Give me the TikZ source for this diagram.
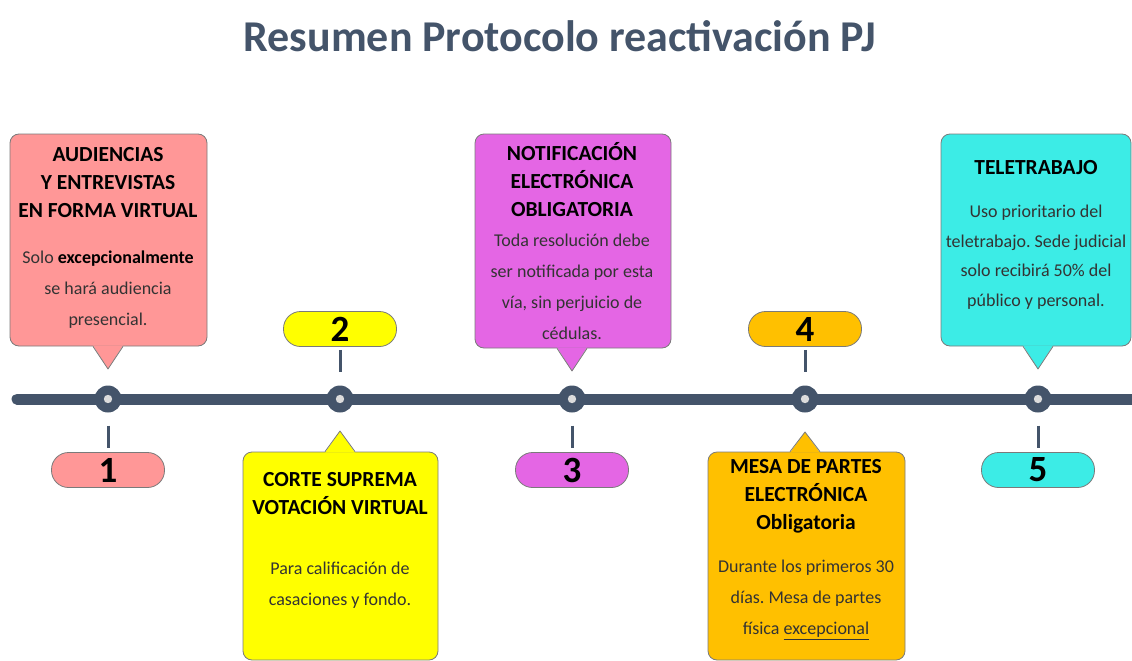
\documentclass[tikz,border=0pt]{standalone}
\usepackage{fontspec}
\setmainfont{Carlito}
\usetikzlibrary{calc}
\definecolor{slate}{HTML}{44546A}
\definecolor{cpink}{HTML}{FF9797}
\definecolor{cyellow}{HTML}{FFFF00}
\definecolor{cmag}{HTML}{E466E4}
\definecolor{corange}{HTML}{FFC000}
\definecolor{ccyan}{HTML}{3CECE6}
\definecolor{edge}{HTML}{7A7A7A}
\definecolor{bodytext}{HTML}{333333}
\definecolor{dotin}{HTML}{DCDCDC}
\frenchspacing
\begin{document}
\begin{tikzpicture}[x=1pt,y=-1pt,
  box/.style={draw=edge, line width=0.8pt, rounded corners=9pt, inner sep=0pt},
  pill/.style={draw=edge, line width=0.8pt, rounded corners=17pt, minimum width=113pt, minimum height=35pt, inner sep=0pt, font=\fontsize{37}{37}\selectfont\bfseries},
  dot/.style={circle, fill=slate, minimum size=27pt, inner sep=0pt},
  tick/.style={draw=slate, line width=3pt},
  head/.style={align=center, font=\fontsize{21.5}{28}\selectfont\bfseries, text=black},
  body/.style={align=center, font=\fontsize{18}{31}\selectfont, text=bodytext},
  ptr/.style={draw=edge, line width=0.8pt, line join=round},
]
\useasboundingbox (0,0) rectangle (1132,661);

% title
\node[text=slate, font=\fontsize{44}{52}\selectfont\bfseries] (title) at (560,36) {Resumen Protocolo reactivación PJ};

% timeline
\coordinate (L) at (17,399);
\coordinate (R) at (1140,399);
\draw[slate, line width=11pt, line cap=round] (L) -- (R);

% dots
\foreach \i/\x in {1/108,2/340,3/572,4/805,5/1038}{
  \node[dot] (c\i) at (\x,399) {};
  \fill[dotin] (c\i) circle (4.2);
}

% pills
\node[pill, fill=cpink]   (p1) at (108,470) {1};
\node[pill, fill=cyellow] (p2) at (340,329) {2};
\node[pill, fill=cmag]    (p3) at (572,470) {3};
\node[pill, fill=corange] (p4) at (805,329) {4};
\node[pill, fill=ccyan]   (p5) at (1038,470) {5};

% ticks
\draw[tick, shorten <=13pt, shorten >=4pt] (c1) -- (p1);
\draw[tick, shorten <=3pt, shorten >=13pt] (p2) -- (c2);
\draw[tick, shorten <=13pt, shorten >=4pt] (c3) -- (p3);
\draw[tick, shorten <=3pt, shorten >=13pt] (p4) -- (c4);
\draw[tick, shorten <=13pt, shorten >=4pt] (c5) -- (p5);

% boxes
\node[box, fill=cpink,   minimum width=197pt, minimum height=212pt] (b1) at (108.5,240) {};
\node[box, fill=cyellow, minimum width=195pt, minimum height=208pt] (b2) at (340.5,556) {};
\node[box, fill=cmag,    minimum width=196pt, minimum height=214pt] (b3) at (573,241) {};
\node[box, fill=corange, minimum width=197pt, minimum height=208pt] (b4) at (806.5,556) {};
\node[box, fill=ccyan,   minimum width=190pt, minimum height=212pt] (b5) at (1036,240) {};

% pointers
\coordinate (t1) at (108,369);
\coordinate (t2) at (340,431);
\coordinate (t3) at (572,371);
\coordinate (t4) at (805,432);
\coordinate (t5) at (1038,369);
\foreach \i/\col/\s in {1/cpink/-1,3/cmag/-1,5/ccyan/-1}{
  \fill[\col] ($(b\i.south -| t\i)+(-15,\s)$) -- (t\i) -- ($(b\i.south -| t\i)+(15,\s)$) -- cycle;
  \draw[ptr] ($(b\i.south -| t\i)+(-15,0)$) -- (t\i) -- ($(b\i.south -| t\i)+(15,0)$);
}
\foreach \i/\col/\s in {2/cyellow/1,4/corange/1}{
  \fill[\col] ($(b\i.north -| t\i)+(-15,\s)$) -- (t\i) -- ($(b\i.north -| t\i)+(15,\s)$) -- cycle;
  \draw[ptr] ($(b\i.north -| t\i)+(-15,0)$) -- (t\i) -- ($(b\i.north -| t\i)+(15,0)$);
}

% texts
\node[head] (h1) at (108,183) {AUDIENCIAS\\Y ENTREVISTAS\\EN FORMA VIRTUAL};
\node[body] (d1) at (108,290) {Solo \textbf{\color{black}excepcionalmente}\\se hará audiencia\\presencial.};

\node[head] (h2) at (340,494) {CORTE SUPREMA\\VOTACIÓN VIRTUAL};
\node[body] (d2) at (340,585) {Para calificación de\\casaciones y fondo.};

\node[head] (h3) at (572,180) {NOTIFICACIÓN\\ELECTRÓNICA\\OBLIGATORIA};
\node[body] (d3) at (572,287) {Toda resolución debe\\ser notificada por esta\\vía, sin perjuicio de\\cédulas.};

\node[head] (h4) at (806,496) {MESA DE PARTES\\ELECTRÓNICA\\Obligatoria};
\node[body] (d4) at (806,600) {Durante los primeros 30\\días. Mesa de partes\\física \underline{excepcional}};

\node[head] (h5) at (1036,168) {TELETRABAJO};
\node[body, font=\fontsize{18}{29.5}\selectfont] (d5) at (1036,257) {Uso prioritario del\\teletrabajo. Sede judicial\\solo recibirá 50\% del\\público y personal.};
\end{tikzpicture}
\end{document}
